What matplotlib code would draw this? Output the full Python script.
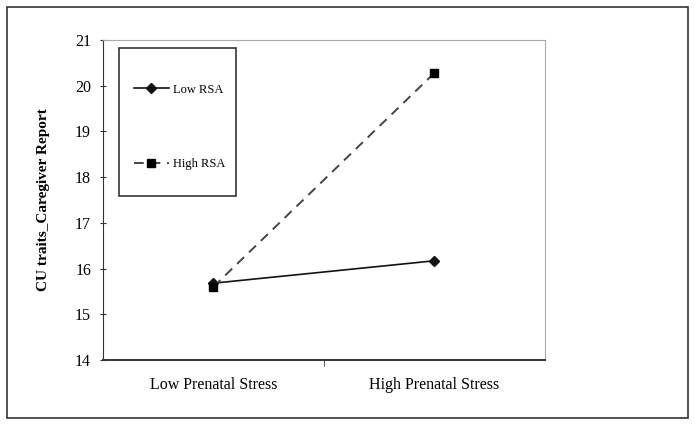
import matplotlib.pyplot as plt
from matplotlib.patches import Rectangle

plt.rcParams['font.family'] = ['Liberation Serif', 'DejaVu Serif']

categories = ['Low Prenatal Stress', 'High Prenatal Stress']
low_rsa = [15.68, 16.17]
high_rsa = [15.60, 20.28]
y_ticks = [14, 15, 16, 17, 18, 19, 20, 21]

fig = plt.figure(figsize=(6.95, 4.26), dpi=100)
# outer frame around the whole chart
fig.patches.append(Rectangle((0.010, 0.018), 0.980, 0.965, transform=fig.transFigure,
                             fill=False, edgecolor='#333333', linewidth=1.2))

ax = fig.add_axes([0.148, 0.155, 0.636, 0.751])
x = [0.5, 1.5]
ax.plot(x, low_rsa, color='#111111', linewidth=1.2, marker='D', markersize=5,
        label='Low RSA')
ax.plot(x, high_rsa, color='#444444', linewidth=1.4, linestyle=(0, (5, 3.5)),
        marker='s', markersize=6, markerfacecolor='black', markeredgecolor='black',
        label='High RSA')

ax.set_xlim(0, 2)
ax.set_ylim(14, 21)
ax.set_yticks(y_ticks)
ax.set_xticks(x)
ax.set_xticklabels(categories, fontsize=11.5)
ax.tick_params(axis='x', length=0, pad=12)
ax.set_xticks([1], minor=True)
ax.tick_params(axis='x', which='minor', length=4, direction='out', color='#333333')
ax.tick_params(axis='y', labelsize=11.5, direction='inout', length=5, color='#333333', pad=6)

ax.spines['top'].set_color('#aaaaaa')
ax.spines['right'].set_color('#aaaaaa')
ax.spines['left'].set_color('#333333')
ax.spines['bottom'].set_color('#333333')
ax.spines['bottom'].set_linewidth(1.4)

ax.set_ylabel('CU traits_Caregiver Report', fontsize=11, fontweight='bold', labelpad=18)

# legend box (drawn separately so it can be tall and narrow like the original)
ax.add_patch(Rectangle((0.036, 0.512), 0.265, 0.463, transform=ax.transAxes,
                       fill=False, edgecolor='#333333', linewidth=1.2, zorder=4))
leg = ax.legend(loc='upper left', bbox_to_anchor=(0.07, 0.864), fontsize=9,
                frameon=False, labelspacing=5.0, borderpad=0, handlelength=2.8,
                handletextpad=0.3, borderaxespad=0)

fig.savefig('out.png', dpi=100)
